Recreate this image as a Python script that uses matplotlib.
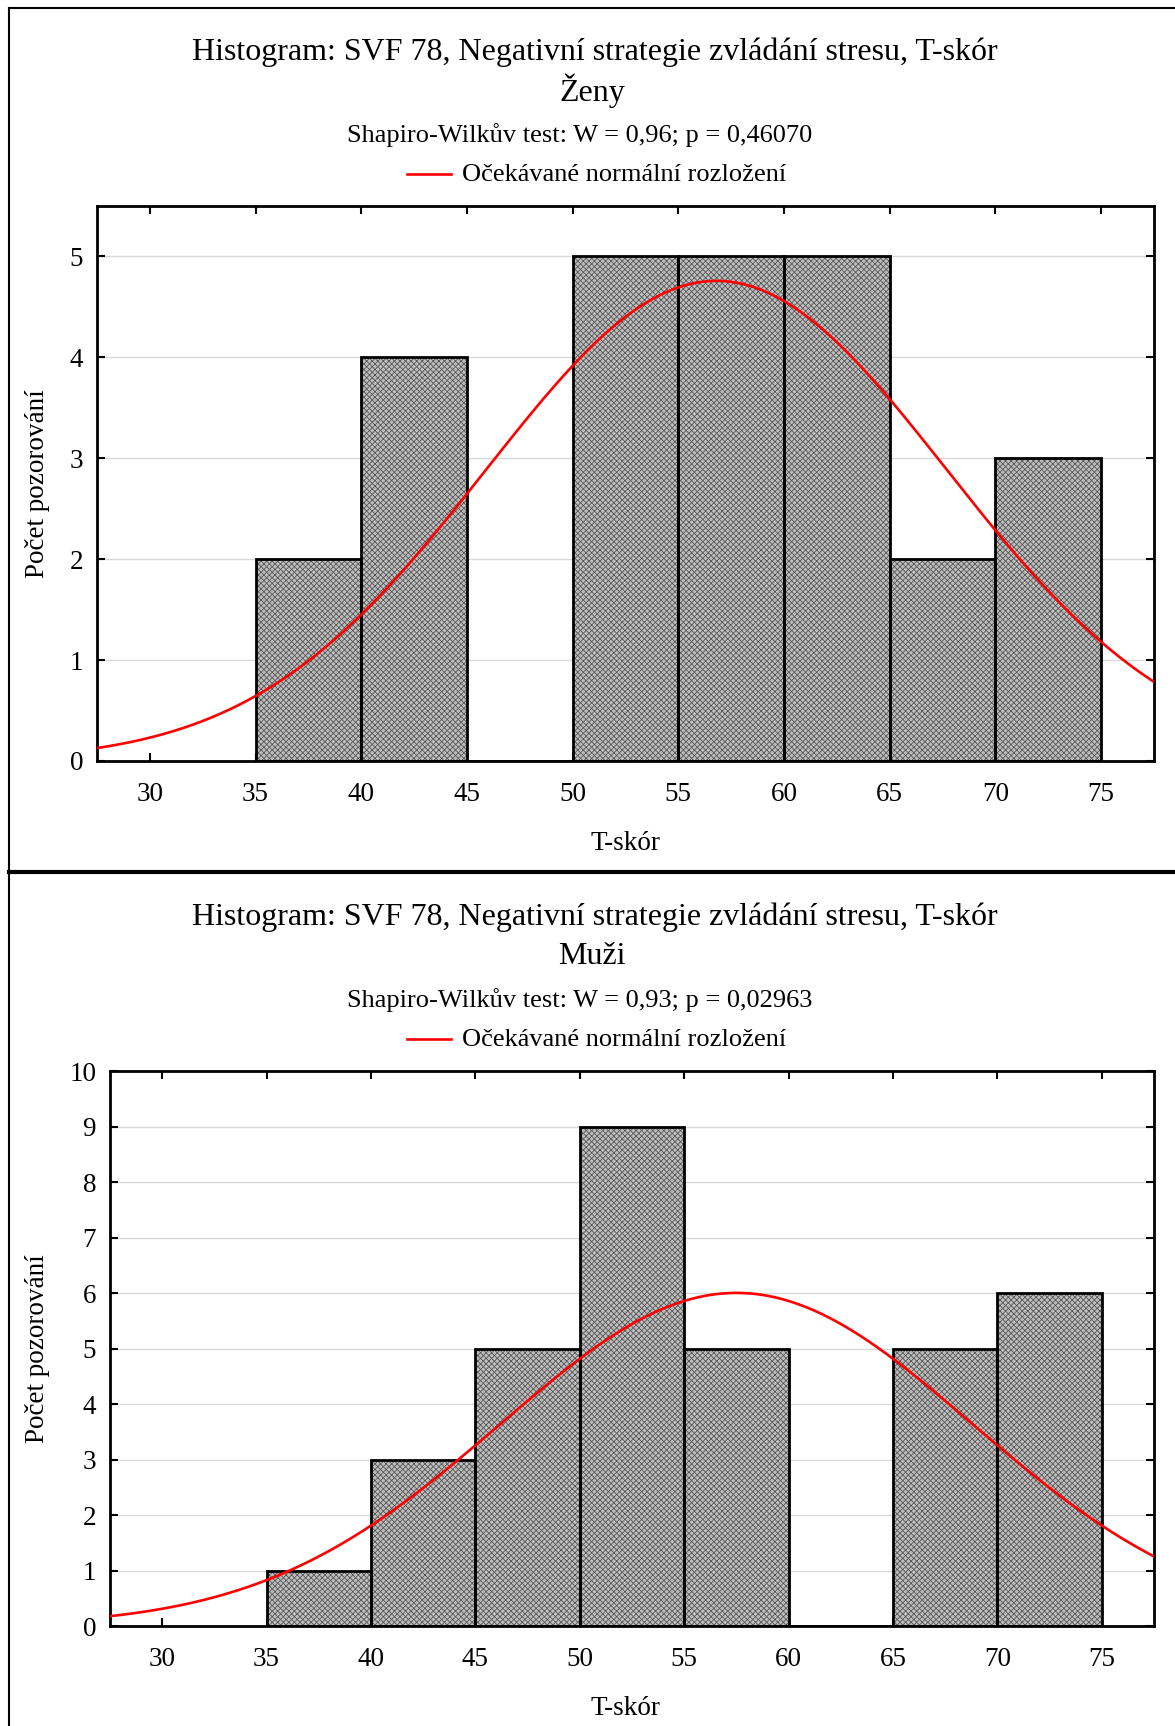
import matplotlib
matplotlib.use("Agg")
import matplotlib.pyplot as plt
from matplotlib.lines import Line2D
import numpy as np

plt.rcParams['font.family'] = ['Liberation Serif', 'DejaVu Serif']
plt.rcParams['hatch.linewidth'] = 0.6

# data
bin_left = [35, 40, 45, 50, 55, 60, 65, 70]
bin_width = 5
zeny_counts = [2, 4, 0, 5, 5, 5, 2, 3]
muzi_counts = [1, 3, 5, 9, 5, 0, 5, 6]
zeny_mean, zeny_sd = 56.8, 10.9
muzi_mean, muzi_sd = 57.5, 11.3
x_ticks = [30, 35, 40, 45, 50, 55, 60, 65, 70, 75]

title = "Histogram: SVF 78, Negativní strategie zvládání stresu, T-skór"
zeny_test = "Shapiro-Wilkův test: W = 0,96; p = 0,46070"
muzi_test = "Shapiro-Wilkův test: W = 0,93; p = 0,02963"
legend_label = "Očekávané normální rozložení"

W, H = 1175, 1726
fig = plt.figure(figsize=(W / 100, H / 100), dpi=100)


def px(x, y):
    return x / W, 1 - y / H


def draw_panel(rect, counts, mean, sd, ymax, yticks):
    l, t, r, b = rect
    ax = fig.add_axes([l / W, 1 - b / H, (r - l) / W, (b - t) / H])
    centers = [x + bin_width / 2 for x in bin_left]
    # textured fill, then outline
    ax.bar(centers, counts, width=bin_width, color='#bdbdbd', edgecolor='#5a5a5a',
           linewidth=0, hatch='xxxxxx', zorder=2)
    ax.bar(centers, counts, width=bin_width, fill=False, edgecolor='black',
           linewidth=2, zorder=3)
    n = sum(counts)
    xs = np.linspace(27.5, 77.5, 400)
    ys = n * bin_width * np.exp(-0.5 * ((xs - mean) / sd) ** 2) / (sd * np.sqrt(2 * np.pi))
    ax.plot(xs, ys, color='red', linewidth=1.9, zorder=4)
    ax.set_xlim(27.5, 77.5)
    ax.set_ylim(0, ymax)
    ax.set_xticks(x_ticks)
    ax.set_yticks(yticks)
    ax.yaxis.grid(True, color='#d8d8d8', linewidth=1, zorder=0)
    ax.set_axisbelow(True)
    ax.tick_params(direction='in', length=6, width=1.5, top=True, right=True,
                   labelsize=19.5)
    ax.tick_params(axis='x', pad=15)
    ax.tick_params(axis='y', pad=10)
    for s in ax.spines.values():
        s.set_linewidth(2)
    return ax


ax1 = draw_panel((97, 206, 1154, 761), zeny_counts, zeny_mean, zeny_sd, 5.5, range(0, 6))
ax2 = draw_panel((110, 1071, 1154, 1626), muzi_counts, muzi_mean, muzi_sd, 10, range(0, 11))

# text blocks
for y0, sub, test, xl_y, yl_y in [(0, "Ženy", zeny_test, 843, 484),
                                   (865, "Muži", muzi_test, 1708, 1349)]:
    fig.text(*px(595, 52 + y0), title, ha='center', va='center', fontsize=23)
    fig.text(*px(592, 91 + y0), sub, ha='center', va='center', fontsize=23)
    fig.text(*px(580, 135 + y0), test, ha='center', va='center', fontsize=19)
    fig.add_artist(Line2D([407 / W, 451 / W], [1 - (174 + y0) / H] * 2,
                          color='red', linewidth=1.9))
    fig.text(*px(462, 175 + y0), legend_label, ha='left', va='center', fontsize=19)
    fig.text(*px(625, xl_y), "T-skór", ha='center', va='center', fontsize=19.5)
    fig.text(*px(38, yl_y), "Počet pozorování", ha='center', va='center',
             rotation=90, fontsize=19.5)

# outer frames
frame = dict(color='black', linewidth=1.5)
fig.add_artist(Line2D([9 / W, 9 / W], [1 - 8 / H, 0], **frame))
fig.add_artist(Line2D([9 / W, 1], [1 - 8 / H, 1 - 8 / H], **frame))
fig.add_artist(Line2D([9 / W, 1], [1 - 871.5 / H, 1 - 871.5 / H], color='black', linewidth=3))

fig.savefig("out.png", dpi=100)
